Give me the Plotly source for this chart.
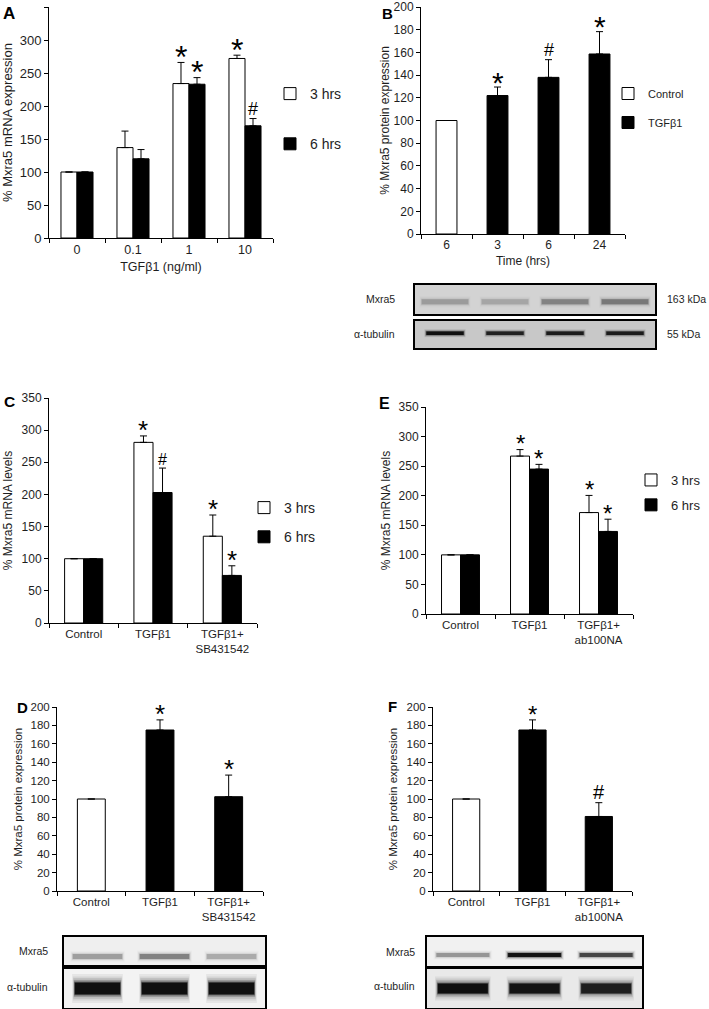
import plotly.graph_objects as go

W, H = 709, 1009
FONT = "Liberation Sans, Arial, Helvetica, sans-serif"
INK = "#1e1e1e"

# ---------------- data ----------------
A_cats = ["0", "0.1", "1", "10"]
A_3h = [100, 137, 234, 272]
A_3h_err = [0, 25, 32, 5]
A_6h = [100, 120, 233, 170]
A_6h_err = [0, 14, 10, 11]
A_3h_sig = ["", "", "*", "*"]
A_6h_sig = ["", "", "*", "#"]

B_cats = ["6", "3", "6", "24"]
B_ctrl = [100]
B_ctrl_err = [0]
B_tgf = [122, 138, 158.6]
B_tgf_err = [7.5, 15.6, 19.7]
B_tgf_sig = ["*", "#", "*"]

C_cats = ["Control", "TGFβ1", "TGFβ1+<br>SB431542"]
C_3h = [100, 281, 135]
C_3h_err = [0, 10, 33]
C_6h = [100, 203, 74]
C_6h_err = [0, 38, 15]
C_3h_sig = ["", "*", "*"]
C_6h_sig = ["", "#", "*"]

E_cats = ["Control", "TGFβ1", "TGFβ1+<br>ab100NA"]
E_3h = [100, 267, 171.5]
E_3h_err = [0, 11, 29]
E_6h = [100, 245, 139.6]
E_6h_err = [0, 8, 20.7]
E_3h_sig = ["", "*", "*"]
E_6h_sig = ["", "*", "*"]

D_cats = ["Control", "TGFβ1", "TGFβ1+<br>SB431542"]
D_vals = [100, 175, 102.5]
D_err = [0, 11, 23.5]
D_sig = ["", "*", "*"]
D_fill = ["white", "black", "black"]

F_cats = ["Control", "TGFβ1", "TGFβ1+<br>ab100NA"]
F_vals = [100, 175, 81]
F_err = [0, 11, 15]
F_sig = ["", "*", "#"]
F_fill = ["white", "black", "black"]

# western blot band intensities (0..1) per lane
B_mxra5_band = [0.16, 0.13, 0.26, 0.3]
B_tub_band = [1.0, 0.8, 0.85, 0.85]
D_mxra5_band = [0.22, 0.32, 0.18]
D_tub_band = [1.0, 1.0, 1.0]
F_mxra5_band = [0.25, 0.95, 0.6]
F_tub_band = [1.0, 0.95, 0.85]

# ---------------- helpers ----------------
fig = go.Figure()
layout = {}
annotations = []
shapes = []


def ax_key(n, letter):
    return f"{letter}axis" if n == 1 else f"{letter}axis{n}"


def ax_ref(n, letter):
    return letter if n == 1 else f"{letter}{n}"


def bar_axes(n, x0, x1, top, bot, cats, ymax, dtick, ytitle, fs, cfs, xtitle=None, ystand=8, xstand=4):
    k = len(cats)
    layout[ax_key(n, "x")] = dict(
        domain=[x0 / W, x1 / W], anchor=ax_ref(n, "y"),
        range=[-0.5, k - 0.5], tickmode="array", tickvals=list(range(k)), ticktext=cats,
        ticks="", showline=True, linecolor="black", linewidth=1, showgrid=False, zeroline=False,
        tickfont=dict(size=cfs, color=INK, family=FONT),
        minor=dict(tickmode="array", tickvals=[i - 0.5 for i in range(k + 1)], ticks="outside",
                   ticklen=4, tickcolor="black", tickwidth=1, showgrid=False),
        fixedrange=True,
        title=dict(text=xtitle or "", font=dict(size=cfs, color=INK), standoff=xstand),
    )
    layout[ax_key(n, "y")] = dict(
        domain=[1 - bot / H, 1 - top / H], anchor=ax_ref(n, "x"),
        range=[0, ymax], dtick=dtick, tick0=0, ticks="outside", ticklen=4, tickcolor="black",
        showline=True, linecolor="black", linewidth=1, showgrid=False, zeroline=False,
        tickfont=dict(size=fs, color=INK, family=FONT), fixedrange=True,
        title=dict(text=ytitle, font=dict(size=fs, color=INK), standoff=ystand),
    )


def add_bars(n, y, err, fill, width, offset, xs=None, name=None, legend=None, showlegend=False):
    xs = list(range(len(y))) if xs is None else xs
    fig.add_trace(go.Bar(
        x=xs, y=y, width=width, offset=offset, name=name,
        marker=dict(color=fill, line=dict(color="black", width=1)),
        error_y=dict(type="data", array=err, arrayminus=[0] * len(err), symmetric=False,
                     color="black", thickness=1, width=3.5, visible=True),
        xaxis=ax_ref(n, "x"), yaxis=ax_ref(n, "y"),
        showlegend=showlegend, legend=legend if legend else "legend",
        legendgroup=name, hoverinfo="skip",
    ))


def add_sig(n, xs, tops, marks, star_fs, hash_fs):
    for x, t, m in zip(xs, tops, marks):
        if not m:
            continue
        if m == "*":
            fs = star_fs
            shift = 5 - 0.62 * fs
        else:
            fs = hash_fs
            shift = -2
        annotations.append(dict(
            x=x, y=t, xref=ax_ref(n, "x"), yref=ax_ref(n, "y"), text=m, showarrow=False,
            yanchor="bottom", yshift=shift, font=dict(size=fs, color="black", family=FONT)))


def tops(v, e):
    return [a + b for a, b in zip(v, e)]


def blot(n, x0, x1, top, bot, bands, yc, thick, bg, spread=0.36):
    k = len(bands)
    layout[ax_key(n, "x")] = dict(domain=[x0 / W, x1 / W], anchor=ax_ref(n, "y"), range=[-0.5, k - 0.5],
                                  showline=True, mirror=True, linecolor="black", linewidth=1.5,
                                  ticks="", showticklabels=False, showgrid=False, zeroline=False, fixedrange=True)
    layout[ax_key(n, "y")] = dict(domain=[1 - bot / H, 1 - top / H], anchor=ax_ref(n, "x"), range=[0, 1],
                                  showline=True, mirror=True, linecolor="black", linewidth=1.5,
                                  ticks="", showticklabels=False, showgrid=False, zeroline=False, fixedrange=True)
    shapes.append(dict(type="rect", xref=f"{ax_ref(n, 'x')} domain", yref=f"{ax_ref(n, 'y')} domain",
                       x0=0, x1=1, y0=0, y1=1, fillcolor=bg, line=dict(width=0), layer="below"))
    layers = ((2.4, 0.06, 1.08), (2.0, 0.08, 1.05), (1.7, 0.12, 1.03), (1.4, 0.2, 1.01), (1.15, 0.35, 1.0), (1.0, 1.0, 0.97))
    for i, v in enumerate(bands):
        for w_mult, a_mult, s_mult in layers:
            fig.add_trace(go.Scatter(
                x=[i - spread * s_mult, i + spread * s_mult], y=[yc, yc], mode="lines",
                line=dict(color=f"rgba(15,15,15,{min(1, v * a_mult):.3f})", width=thick * w_mult),
                xaxis=ax_ref(n, "x"), yaxis=ax_ref(n, "y"), showlegend=False, hoverinfo="skip"))


def label(x, y, text, fs=10.5, xanchor="center", bold=False):
    annotations.append(dict(x=x / W, y=1 - y / H, xref="paper", yref="paper", text=f"<b>{text}</b>" if bold else text,
                            showarrow=False, xanchor=xanchor, yanchor="middle",
                            font=dict(size=fs, color="black" if bold else INK, family=FONT)))


# ---------------- panel A ----------------
wA = 0.286
bar_axes(1, 49, 273, 7, 238, A_cats, 350, 50, "% Mxra5 mRNA expression", 13, 12.5, "TGFβ1 (ng/ml)", ystand=9, xstand=6)
add_bars(1, A_3h, A_3h_err, "white", wA, -wA, name="3 hrs", legend="legend", showlegend=True)
add_bars(1, A_6h, A_6h_err, "black", wA, 0, name="6 hrs", legend="legend", showlegend=True)
add_sig(1, [i - wA / 2 for i in range(4)], tops(A_3h, A_3h_err), A_3h_sig, 32, 18)
add_sig(1, [i + wA / 2 for i in range(4)], tops(A_6h, A_6h_err), A_6h_sig, 32, 18)

# ---------------- panel B ----------------
wB = 0.41
bar_axes(2, 421, 625, 7, 234, B_cats, 200, 20, "% Mxra5 protein expression", 12, 12, "Time (hrs)", ystand=1, xstand=5)
add_bars(2, B_ctrl, B_ctrl_err, "white", wB, -wB / 2, xs=[0], name="Control", legend="legend4", showlegend=True)
add_bars(2, B_tgf, B_tgf_err, "black", wB, -wB / 2, xs=[1, 2, 3], name="TGFβ1", legend="legend4", showlegend=True)
add_sig(2, [1, 2, 3], tops(B_tgf, B_tgf_err), B_tgf_sig, 30, 18)

# ---------------- panel C ----------------
wC = 0.275
bar_axes(3, 49, 257, 398, 623, C_cats, 350, 50, "% Mxra5 mRNA levels", 12, 11.5, ystand=6)
add_bars(3, C_3h, C_3h_err, "white", wC, -wC, name="3 hrs", legend="legend2", showlegend=True)
add_bars(3, C_6h, C_6h_err, "black", wC, 0, name="6 hrs", legend="legend2", showlegend=True)
add_sig(3, [i - wC / 2 for i in range(3)], tops(C_3h, C_3h_err), C_3h_sig, 26, 16)
add_sig(3, [i + wC / 2 for i in range(3)], tops(C_6h, C_6h_err), C_6h_sig, 26, 16)

# ---------------- panel E ----------------
wE = 0.275
bar_axes(4, 426, 633, 407, 614, E_cats, 350, 50, "% Mxra5 mRNA levels", 12, 11.5, ystand=5)
add_bars(4, E_3h, E_3h_err, "white", wE, -wE, name="3 hrs", legend="legend3", showlegend=True)
add_bars(4, E_6h, E_6h_err, "black", wE, 0, name="6 hrs", legend="legend3", showlegend=True)
add_sig(4, [i - wE / 2 for i in range(3)], tops(E_3h, E_3h_err), E_3h_sig, 24, 16)
add_sig(4, [i + wE / 2 for i in range(3)], tops(E_6h, E_6h_err), E_6h_sig, 24, 16)

# ---------------- panel D ----------------
wD = 0.406
bar_axes(5, 57, 263, 707, 891, D_cats, 200, 20, "% Mxra5 protein expression", 11.5, 11.5, ystand=5)
add_bars(5, D_vals, D_err, D_fill, wD, -wD / 2)
add_sig(5, list(range(3)), tops(D_vals, D_err), D_sig, 26, 18)

# ---------------- panel F ----------------
wF = 0.41
bar_axes(6, 433, 632, 707, 891, F_cats, 200, 20, "% Mxra5 protein expression", 11.5, 11.5, ystand=6)
add_bars(6, F_vals, F_err, F_fill, wF, -wF / 2)
add_sig(6, list(range(3)), tops(F_vals, F_err), F_sig, 24, 20)

# ---------------- blots ----------------
blot(7, 415, 655, 285, 314, B_mxra5_band, 0.42, 5, "#d3d3d3", spread=0.4)
blot(8, 415, 655, 321, 348, B_tub_band, 0.55, 3.5, "#c8c8c8", spread=0.32)
blot(9, 64, 265, 937, 965, D_mxra5_band, 0.3, 5, "#efefef", spread=0.38)
blot(10, 64, 265, 969, 1008, D_tub_band, 0.5, 12, "#f3f3f3", spread=0.35)
blot(11, 427, 642, 937, 966, F_mxra5_band, 0.38, 4, "#f1f1f1", spread=0.38)
blot(12, 427, 642, 969, 1008, F_tub_band, 0.5, 10, "#e9e9e9", spread=0.36)

label(397, 299, "Mxra5", xanchor="right")
label(397, 334, "α-tubulin", xanchor="right")
label(665, 299, "163 kDa", xanchor="left")
label(665, 334, "55 kDa", xanchor="left")
label(50, 951, "Mxra5", xanchor="right")
label(50, 987, "α-tubulin", xanchor="right")
label(417, 952, "Mxra5", xanchor="right")
label(417, 986, "α-tubulin", xanchor="right")

# panel letters
label(9, 14, "A", fs=17, bold=True)
label(387, 14, "B", fs=15, bold=True)
label(9, 402, "C", fs=15.5, bold=True)
label(22, 707, "D", fs=15, bold=True)
label(384, 404, "E", fs=16, bold=True)
label(392, 706, "F", fs=15, bold=True)


def leg(x, y, fs, gap):
    return dict(x=x / W, y=1 - y / H, xanchor="left", yanchor="top", bgcolor="rgba(0,0,0,0)",
                font=dict(size=fs, color=INK, family=FONT), itemwidth=30, traceorder="grouped",
                tracegroupgap=gap, itemclick=False, itemdoubleclick=False)


layout["legend"] = leg(270, 78, 14, 29)
layout["legend2"] = leg(244, 492, 14, 8)
layout["legend3"] = leg(631, 465, 13, 5)
layout["legend4"] = leg(608, 79, 11, 10)

fig.update_layout(
    width=W, height=H, margin=dict(l=0, r=0, t=0, b=0),
    paper_bgcolor="white", plot_bgcolor="white", template="none",
    font=dict(family=FONT, color=INK),
    barmode="overlay", showlegend=True,
    annotations=annotations, shapes=shapes, **layout,
)

fig.write_html(
    "out.html",
    config={"displayModeBar": False},
    post_script="document.body.style.margin='0';document.body.style.padding='0';document.body.style.overflow='hidden';",
)
